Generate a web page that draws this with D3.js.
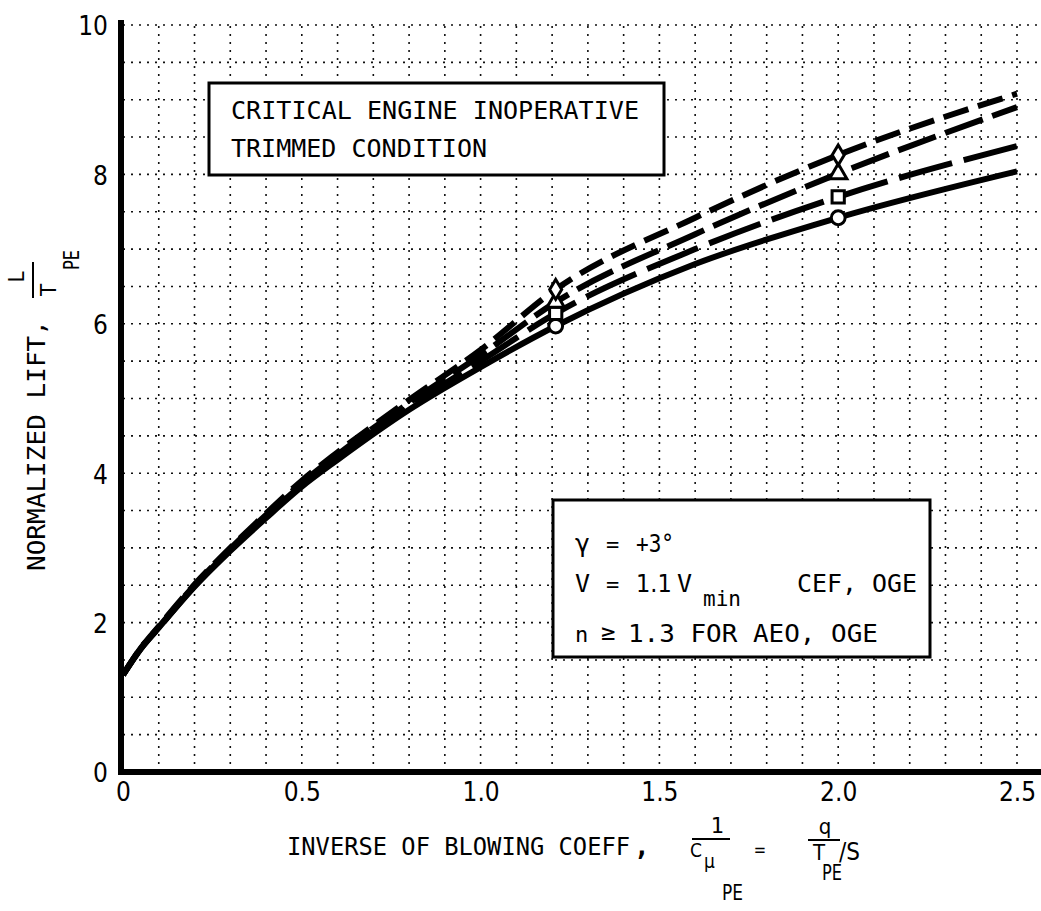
<!DOCTYPE html>
<html>
<head>
<meta charset="utf-8">
<script src="https://cdn.jsdelivr.net/npm/d3@7"></script>
<style>
  html, body { margin: 0; padding: 0; background: #fff; }
  svg { display: block; }
</style>
</head>
<body>
<svg id="chart" width="1041" height="911"></svg>
<script>
// Normalized lift vs inverse of blowing coefficient (critical engine inoperative, trimmed)
const xValues      = [0, 0.05, 0.1, 0.2, 0.3, 0.4, 0.5, 0.6, 0.8, 1.0, 1.21, 1.6, 2.0, 2.5];
const liftDiamond  = [1.30, 1.66, 1.95, 2.51, 3.00, 3.46, 3.90, 4.28, 4.98, 5.65, 6.46, 7.42, 8.26, 9.08];
const liftTriangle = [1.30, 1.66, 1.94, 2.50, 2.99, 3.44, 3.87, 4.25, 4.94, 5.58, 6.29, 7.20, 8.01, 8.90];
const liftSquare   = [1.30, 1.65, 1.93, 2.49, 2.97, 3.42, 3.84, 4.21, 4.89, 5.50, 6.14, 7.00, 7.70, 8.38];
const liftCircle   = [1.30, 1.65, 1.93, 2.48, 2.96, 3.40, 3.82, 4.18, 4.85, 5.42, 5.97, 6.80, 7.42, 8.04];
const markerAt     = [1.21, 2.0];

const xTicks      = [0, 0.5, 1.0, 1.5, 2.0, 2.5];
const xTickLabels = ["0", "0.5", "1.0", "1.5", "2.0", "2.5"];
const yTicks      = [0, 2, 4, 6, 8, 10];
const yTickLabels = ["0", "2", "4", "6", "8", "10"];

const series = [
  { name: "diamond",  values: liftDiamond,  dash: "26,10", symbol: "diamond" },
  { name: "triangle", values: liftTriangle, dash: "40,10", symbol: "triangle" },
  { name: "square",   values: liftSquare,   dash: "55,12", symbol: "square" },
  { name: "circle",   values: liftCircle,   dash: null,    symbol: "circle" }
];

const svg = d3.select("#chart");
const W = 1041;

const x = d3.scaleLinear().domain([0, 2.5]).range([123, 1017]);
const y = d3.scaleLinear().domain([0, 10]).range([772, 25]);
const xMax = x.invert(W);

const MONO = "'DejaVu Sans Mono', 'Liberation Mono', monospace";
const COND = "'DejaVu Sans Condensed', 'Liberation Sans Narrow', 'DejaVu Sans', sans-serif";

// ---- dotted graph-paper grid ----
const grid = svg.append("g").attr("class", "grid")
  .attr("stroke", "#111").attr("stroke-width", 1.6)
  .attr("stroke-dasharray", "2,6").attr("fill", "none");

const vGrid = d3.range(1, Math.floor(xMax * 10) + 1).map(i => i / 10);
grid.selectAll("line.v").data(vGrid).join("line")
  .attr("class", "v")
  .attr("x1", d => x(d)).attr("x2", d => x(d))
  .attr("y1", y(0)).attr("y2", y(10) - 5);

const hGrid = d3.range(1, 21).map(i => i / 2);
grid.selectAll("line.h").data(hGrid).join("line")
  .attr("class", "h")
  .attr("x1", x(0)).attr("x2", W)
  .attr("y1", d => y(d)).attr("y2", d => y(d));

// ---- axes: tick labels through d3 axes ----
const xAxis = d3.axisBottom(x).tickValues(xTicks)
  .tickFormat((d, i) => xTickLabels[i]).tickSize(0).tickPadding(11);
const gx = svg.append("g").attr("transform", `translate(0,${y(0)})`).call(xAxis);
gx.select(".domain").remove();
gx.selectAll("text").attr("font-family", COND).attr("font-size", 26).attr("fill", "#000");

const yAxis = d3.axisLeft(y).tickValues(yTicks)
  .tickFormat((d, i) => yTickLabels[i]).tickSize(0).tickPadding(15);
const gy = svg.append("g").attr("transform", `translate(${x(0)},0)`).call(yAxis);
gy.select(".domain").remove();
gy.selectAll("text").attr("font-family", COND).attr("font-size", 26)
  .attr("fill", "#000").attr("dy", "0.38em");

// heavy axis lines
svg.append("line").attr("x1", x(0) - 2).attr("x2", W)
  .attr("y1", y(0)).attr("y2", y(0))
  .attr("stroke", "#000").attr("stroke-width", 6);
svg.append("line").attr("x1", x(0) - 2).attr("x2", x(0) - 2)
  .attr("y1", y(0) + 3).attr("y2", y(10) - 5)
  .attr("stroke", "#000").attr("stroke-width", 6);

// ---- curves ----
const line = d3.line()
  .x((d, i) => x(xValues[i]))
  .y(d => y(d))
  .curve(d3.curveMonotoneX);

const curves = svg.append("g").attr("fill", "none").attr("stroke", "#000")
  .attr("stroke-width", 6).attr("stroke-linecap", "butt");
series.slice().reverse().forEach(s => {
  const p = curves.append("path").attr("d", line(s.values));
  if (s.dash) p.attr("stroke-dasharray", s.dash);
});

// ---- open symbols at the computed points ----
const symbolPath = {
  circle:   d3.symbol(d3.symbolCircle, 150)(),
  square:   d3.symbol(d3.symbolSquare, 150)(),
  triangle: d3.symbol(d3.symbolTriangle, 130)(),
  diamond:  "M0,-10L6,0L0,10L-6,0Z"
};
const marks = svg.append("g");
series.slice().reverse().forEach(s => {
  const pts = markerAt.map(mx => ({ xv: mx, yv: s.values[xValues.indexOf(mx)] }));
  marks.selectAll(null).data(pts).join("path")
    .attr("d", symbolPath[s.symbol])
    .attr("transform", d => `translate(${x(d.xv)},${y(d.yv)})`)
    .attr("fill", "#fff").attr("stroke", "#000").attr("stroke-width", 3);
});

// ---- annotation boxes ----
function box(x0, y0, x1, y1) {
  svg.append("rect").attr("x", x0).attr("y", y0)
    .attr("width", x1 - x0).attr("height", y1 - y0)
    .attr("fill", "#fff").attr("stroke", "#000").attr("stroke-width", 3);
}
function txt(str, tx, ty, opts = {}) {
  const t = svg.append("text").attr("x", tx).attr("y", ty)
    .attr("font-family", opts.family || MONO)
    .attr("font-size", opts.size || 25)
    .attr("font-weight", opts.weight || "normal")
    .attr("text-anchor", opts.anchor || "start")
    .attr("fill", "#000").text(str);
  if (opts.len) t.attr("textLength", opts.len).attr("lengthAdjust", "spacingAndGlyphs");
  return t;
}

box(209, 83, 664, 175);
txt("CRITICAL ENGINE INOPERATIVE", 231, 119, { len: 408 });
txt("TRIMMED CONDITION", 231, 157, { len: 256 });

box(553, 500, 930, 657);
txt("\u03b3", 575, 552, { size: 25 });
txt("=", 606, 552, { size: 22 });
txt("+3\u00b0", 636, 552, { size: 25, len: 38 });
txt("V", 575, 592, { size: 25 });
txt("=", 606, 592, { size: 22 });
txt("1.1", 636, 592, { size: 25, family: COND });
txt("V", 677, 592, { size: 25 });
txt("min", 703, 606, { size: 22, len: 38 });
txt("CEF, OGE", 797, 592, { size: 25, len: 120 });
txt("n", 575, 642, { size: 22 });
txt("\u2265", 601, 640, { size: 24 });
txt("1.3 FOR AEO, OGE", 628, 642, { size: 25, len: 250 });

// ---- x-axis title ----
txt("INVERSE OF BLOWING COEFF", 287, 855, { size: 24, len: 343 });
txt(",", 634, 855, { size: 26, weight: "bold" });
txt("1", 717, 833, { size: 22, anchor: "middle" });
svg.append("line").attr("x1", 692).attr("x2", 730).attr("y1", 839).attr("y2", 839)
  .attr("stroke", "#000").attr("stroke-width", 2);
txt("C", 690, 857, { size: 19, family: COND });
txt("\u03bc", 704, 868, { size: 19, family: COND });
txt("PE", 722, 900, { size: 22, family: COND, len: 21 });
txt("=", 760, 856, { size: 18, anchor: "middle" });
txt("q", 825, 834, { size: 22, anchor: "middle", family: COND });
svg.append("line").attr("x1", 808).attr("x2", 840).attr("y1", 840).attr("y2", 840)
  .attr("stroke", "#000").attr("stroke-width", 2);
txt("T", 813, 860, { size: 22, family: COND });
txt("PE", 822, 880, { size: 21, family: COND, len: 20 });
txt("/S", 839, 860, { size: 24, family: COND, len: 21 });

// ---- y-axis title (rotated) ----
function rtxt(str, tx, ty, opts = {}) {
  const t = svg.append("text")
    .attr("transform", `translate(${tx},${ty}) rotate(-90)`)
    .attr("font-family", opts.family || MONO)
    .attr("font-size", opts.size || 24)
    .attr("text-anchor", opts.anchor || "start")
    .attr("fill", "#000").text(str);
  if (opts.len) t.attr("textLength", opts.len).attr("lengthAdjust", "spacingAndGlyphs");
  return t;
}
rtxt("NORMALIZED LIFT,", 45, 571, { len: 251 });
rtxt("L", 24, 277, { anchor: "middle", family: COND, size: 22 });
svg.append("line").attr("x1", 33).attr("x2", 33).attr("y1", 262).attr("y2", 298)
  .attr("stroke", "#000").attr("stroke-width", 2);
rtxt("T", 56, 290, { anchor: "middle", family: COND, size: 22 });
rtxt("PE", 79, 260, { anchor: "middle", family: COND, size: 21, len: 20 });
</script>
</body>
</html>
